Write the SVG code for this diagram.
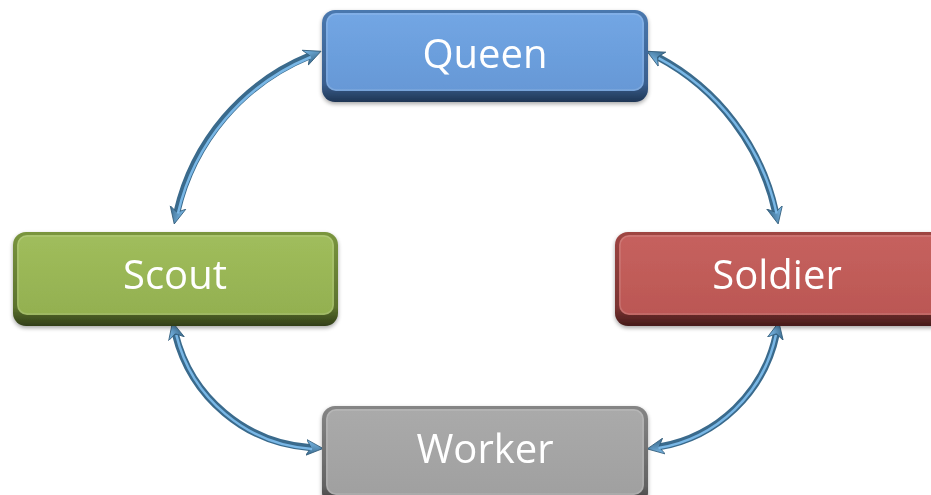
<svg xmlns="http://www.w3.org/2000/svg" width="931" height="495" viewBox="0 0 931 495">
<defs>
<style>
.lbl{font-family:"Open Sans","Noto Sans",sans-serif;font-size:40px;fill:#ffffff;text-anchor:middle}
.cd{fill:none;stroke:#3a6a8c;stroke-width:7;stroke-linecap:butt}
.cl{fill:none;stroke:#79b7e6;stroke-width:2.5}
.hl{fill:none;stroke:#ffffff;stroke-opacity:0.15;stroke-width:1.5}
</style>
<filter id="sh" x="-10%" y="-10%" width="120%" height="130%">
<feGaussianBlur in="SourceAlpha" stdDeviation="2"/>
<feOffset dy="2"/>
<feComponentTransfer><feFuncA type="linear" slope="0.35"/></feComponentTransfer>
<feMerge><feMergeNode/><feMergeNode in="SourceGraphic"/></feMerge>
</filter>
<linearGradient id="gq" x1="0" y1="0" x2="0" y2="1"><stop offset="0" stop-color="#72a6e4"/><stop offset="1" stop-color="#6698d6"/></linearGradient>
<linearGradient id="eq" x1="0" y1="0" x2="0" y2="1"><stop offset="0" stop-color="#4a78ae"/><stop offset="0.8" stop-color="#3a5f8e"/><stop offset="1" stop-color="#1f3655"/></linearGradient>
<linearGradient id="gs" x1="0" y1="0" x2="0" y2="1"><stop offset="0" stop-color="#a0bd5c"/><stop offset="1" stop-color="#93b050"/></linearGradient>
<linearGradient id="es" x1="0" y1="0" x2="0" y2="1"><stop offset="0" stop-color="#7a953e"/><stop offset="0.8" stop-color="#5c722e"/><stop offset="1" stop-color="#323f18"/></linearGradient>
<linearGradient id="gr" x1="0" y1="0" x2="0" y2="1"><stop offset="0" stop-color="#c6615e"/><stop offset="1" stop-color="#bb5754"/></linearGradient>
<linearGradient id="er" x1="0" y1="0" x2="0" y2="1"><stop offset="0" stop-color="#9e4542"/><stop offset="0.8" stop-color="#7a3331"/><stop offset="1" stop-color="#461c1b"/></linearGradient>
<linearGradient id="gw" x1="0" y1="0" x2="0" y2="1"><stop offset="0" stop-color="#aaaaaa"/><stop offset="1" stop-color="#a0a0a0"/></linearGradient>
<linearGradient id="ew" x1="0" y1="0" x2="0" y2="1"><stop offset="0" stop-color="#858585"/><stop offset="0.8" stop-color="#636363"/><stop offset="1" stop-color="#363636"/></linearGradient>
<linearGradient id="ga" x1="0" y1="0" x2="0" y2="1"><stop offset="0" stop-color="#7cbbea"/><stop offset="1" stop-color="#3a6a8c"/></linearGradient>
<marker id="ah" markerUnits="userSpaceOnUse" markerWidth="18" markerHeight="18" viewBox="0 0 18 18" refX="5" refY="9" orient="auto-start-reverse">
<path d="M17,9 L0,1 L5,9 L0,17 Z" fill="url(#ga)" stroke="#2f5a78" stroke-width="0.8"/>
</marker>
</defs>
<g id="connectors">
<path class="cd" d="M309.9,55.8 A222.7,222.7 0 0 0 176.9,212.3" marker-start="url(#ah)" marker-end="url(#ah)"/>
<path class="cl" transform="translate(1,1.2)" d="M309.9,55.8 A222.7,222.7 0 0 0 176.9,212.3"/>
<path class="cd" d="M657.6,56.9 A232,232 0 0 1 775.6,212.2" marker-start="url(#ah)" marker-end="url(#ah)"/>
<path class="cl" transform="translate(1,1.2)" d="M657.6,56.9 A232,232 0 0 1 775.6,212.2"/>
<path class="cd" d="M175.3,333.8 A150,150 0 0 0 311.1,447.7" marker-start="url(#ah)" marker-end="url(#ah)"/>
<path class="cl" transform="translate(1,1.2)" d="M175.3,333.8 A150,150 0 0 0 311.1,447.7"/>
<path class="cd" d="M776.4,333.8 A145,145 0 0 1 659,446.9" marker-start="url(#ah)" marker-end="url(#ah)"/>
<path class="cl" transform="translate(-0.5,1.2)" d="M776.4,333.8 A145,145 0 0 1 659,446.9"/>
</g>
<g id="queen" filter="url(#sh)">
<rect x="322" y="10" width="326" height="92" rx="13" fill="url(#eq)"/>
<rect x="326" y="13" width="318" height="78" rx="10" fill="url(#gq)"/>
<rect x="327" y="14" width="316" height="76" rx="9" class="hl"/>
<text class="lbl" x="485" y="68">Queen</text>
</g>
<g id="scout" filter="url(#sh)">
<rect x="13" y="232" width="325" height="94" rx="13" fill="url(#es)"/>
<rect x="17" y="235" width="317" height="80" rx="10" fill="url(#gs)"/>
<rect x="18" y="236" width="315" height="78" rx="9" class="hl"/>
<text class="lbl" x="175" y="289">Scout</text>
</g>
<g id="soldier" filter="url(#sh)">
<rect x="615" y="232" width="330" height="94" rx="13" fill="url(#er)"/>
<rect x="619" y="235" width="322" height="80" rx="10" fill="url(#gr)"/>
<rect x="620" y="236" width="320" height="78" rx="9" class="hl"/>
<text class="lbl" x="777" y="289">Soldier</text>
</g>
<g id="worker" filter="url(#sh)">
<rect x="322" y="406" width="326" height="100" rx="13" fill="url(#ew)"/>
<rect x="326" y="409" width="318" height="86" rx="10" fill="url(#gw)"/>
<rect x="327" y="410" width="316" height="84" rx="9" class="hl"/>
<text class="lbl" x="485" y="463">Worker</text>
</g>
</svg>
